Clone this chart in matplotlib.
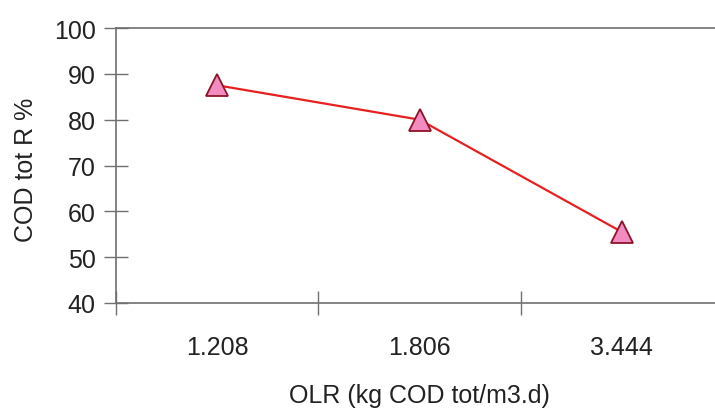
import numpy as np
import matplotlib.pyplot as plt

plt.rcParams['font.family'] = ['Liberation Sans', 'DejaVu Sans']

olr_labels = ["1.208", "1.806", "3.444"]
cod_removal = [87.5, 80.0, 55.5]

fig = plt.figure(figsize=(7.15, 4.10), dpi=100)
# plot area runs past the right edge, like the cropped original
ax = fig.add_axes([116 / 715, 1 - 304 / 410, (723 - 116) / 715, (304 - 29) / 410])

x = np.arange(len(olr_labels))
ax.plot(x, cod_removal, color="#e82020", lw=1.6, marker="^", ms=16,
        markerfacecolor="#f28cc0", markeredgecolor="#8a1428", markeredgewidth=1.3)

ax.set_xlim(-0.5, len(olr_labels) - 0.5)
ax.set_ylim(40, 100)
ax.set_yticks(np.arange(40, 101, 10))

# category ticks sit on the boundaries, labels in the middle
ax.set_xticks(np.arange(len(olr_labels) + 1) - 0.5)
ax.set_xticklabels([])
ax.set_xticks(x, minor=True)
ax.set_xticklabels(olr_labels, minor=True)

ax.tick_params(axis="both", which="major", direction="inout", length=17,
               width=1, color="#707070", labelsize=18, labelcolor="#222222")
ax.tick_params(axis="y", pad=6)
ax.tick_params(axis="x", which="minor", length=0, pad=23,
               labelsize=18, labelcolor="#222222")

for side in ["left", "bottom", "top"]:
    ax.spines[side].set_color("#707070")
    ax.spines[side].set_linewidth(1.2)
ax.spines["right"].set_visible(False)

ax.set_ylabel("COD tot R %", fontsize=18, color="#222222")
ax.set_xlabel("OLR (kg COD tot/m3.d)", fontsize=18, color="#222222")
ax.yaxis.set_label_coords(-0.128, 0.487)
ax.xaxis.set_label_coords(0.5, -0.29)

fig.savefig("out.png", dpi=100)
